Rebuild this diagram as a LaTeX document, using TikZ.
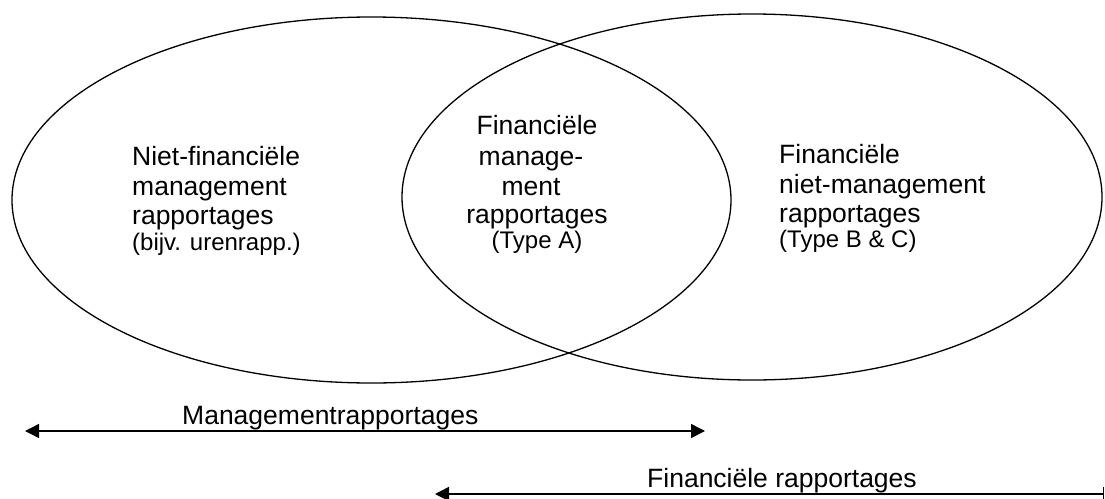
\documentclass[tikz,border=0pt]{standalone}
\usepackage{fontspec}
\setmainfont{Liberation Sans}
\usetikzlibrary{arrows.meta,shapes.geometric}
\tikzset{
  big/.style={font=\fontsize{26.5}{29.5}\selectfont, inner sep=0pt},
  small/.style={font=\fontsize{24}{27}\selectfont, inner sep=0pt},
  setshape/.style={draw, ellipse, line width=1.3pt, inner sep=0pt},
  span/.style={line width=1.5pt},
}
\begin{document}
\begin{tikzpicture}[x=1pt,y=-1pt]
\useasboundingbox (0,0) rectangle (1105,498);
% sets
\node[setshape, minimum width=719pt, minimum height=366pt] (L) at (371.5,200) {};
\node[setshape, minimum width=700pt, minimum height=366pt] (R) at (752,197) {};
% left text
\node[big, anchor=base west] (l1) at (132,165) {Niet-financiële};
\node[big, anchor=base west] (l2) at (132,195) {management};
\node[big, anchor=base west] (l3) at (132,224) {rapportages};
\node[small, anchor=base west] (l4) at (132,250) {(bijv. urenrapp.)};
% center text
\node[big, anchor=base] (c1) at (537,134) {Financiële};
\node[big, anchor=base] (c2) at (531,165) {manage-};
\node[big, anchor=base] (c3) at (531,195) {ment};
\node[big, anchor=base] (c4) at (537,223) {rapportages};
\node[small, anchor=base] (c5) at (537,248) {(Type A)};
% right text
\node[big, anchor=base west] (r1) at (779,163) {Financiële};
\node[big, anchor=base west] (r2) at (779,193) {niet-management};
\node[big, anchor=base west] (r3) at (779,222) {rapportages};
\node[small, anchor=base west] (r4) at (779,247) {(Type B \& C)};
% spans
\coordinate (m1) at (25,431);
\coordinate (m2) at (705,431);
\draw[span, {Triangle[length=14pt,width=14pt]}-{Triangle[length=14pt,width=14pt]}] (m1) -- (m2);
\node[big, anchor=base west] (mlabel) at (182,424) {Managementrapportages};
\coordinate (f1) at (435,494);
\coordinate (f2) at (1104,494);
\draw[span, {Triangle[length=14pt,width=14pt]}-{Bar[width=14pt]}] (f1) -- (f2);
\node[big, anchor=base west] (flabel) at (647,487) {Financiële rapportages};
\end{tikzpicture}
\end{document}
